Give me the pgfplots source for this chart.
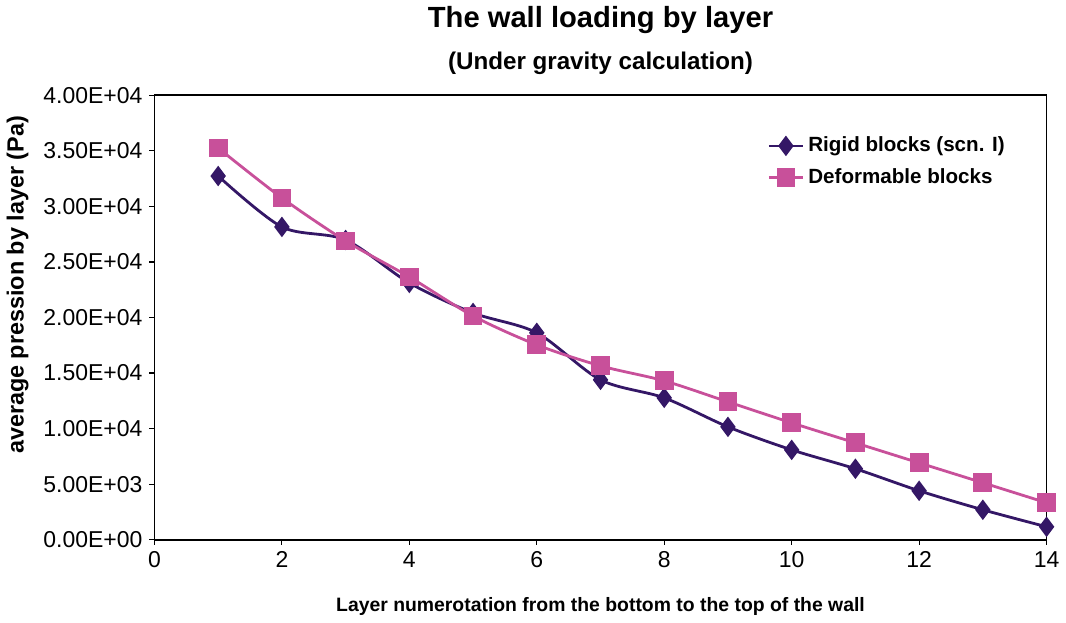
\documentclass[border=0pt]{standalone}
\usepackage{fontspec}
\setmainfont{Liberation Sans}
\usepackage{pgfplots}
\pgfplotsset{compat=1.18}

\definecolor{rigid}{HTML}{341766}
\definecolor{deform}{HTML}{C8509A}

\begin{document}
\begin{tikzpicture}
\begin{axis}[
    scale only axis,
    width=446.5pt, height=222.5pt,
    xmin=0, xmax=14, ymin=0, ymax=40000,
    xtick={0,2,...,14},
    ytick={0,5000,...,40000},
    yticklabels={0.00E+00,5.00E+03,1.00E+04,1.50E+04,2.00E+04,2.50E+04,3.00E+04,3.50E+04,4.00E+04},
    scaled y ticks=false,
    /pgf/number format/assume math mode=true,
    tick align=outside,
    xtick pos=bottom, ytick pos=left,
    major tick length=2.5pt,
    tick style={black, line width=0.6pt},
    axis line style={black, line width=0.8pt},
    tick label style={font=\fontsize{11.5}{13}\selectfont},
    xlabel={\textbf{Layer numerotation from the bottom to the top of the wall}},
    xlabel style={font=\fontsize{9.7}{11}\selectfont, at={(axis description cs:0.5,-0.1506)}, anchor=center},
    ylabel={\textbf{average pression by layer (Pa)}},
    ylabel style={font=\fontsize{11.7}{14}\selectfont, at={(axis description cs:-0.1534,0.573)}, anchor=center},
    legend style={at={(0.68,0.925)}, anchor=north west, draw=none, fill=none,
        font=\fontsize{10.3}{12}\selectfont\bfseries, row sep=3pt},
    legend cell align=left,
    clip=false,
]
\addplot[rigid, line width=1.4pt, smooth, tension=0.5, mark=diamond*, mark size=4pt, mark options={solid}] coordinates {
    (1,32730) (2,28150) (3,26980) (4,23110) (5,20410) (6,18620) (7,14390)
    (8,12770) (9,10160) (10,8090) (11,6390) (12,4410) (13,2700) (14,1170)
};
\addlegendentry{Rigid blocks (scn. I)}
\addplot[deform, line width=1.4pt, smooth, tension=0.5, mark=square*, mark size=4pt, mark options={solid}] coordinates {
    (1,35250) (2,30760) (3,26890) (4,23650) (5,20140) (6,17540) (7,15650)
    (8,14300) (9,12410) (10,10520) (11,8720) (12,6920) (13,5130) (14,3330)
};
\addlegendentry{Deformable blocks}
\node[font=\fontsize{14.6}{16}\selectfont\bfseries, anchor=center] at (axis description cs:0.5,1.1685) {The wall loading by layer};
\node[font=\fontsize{12.1}{14}\selectfont\bfseries, anchor=center] at (axis description cs:0.5,1.072) {(Under gravity calculation)};
\end{axis}
\end{tikzpicture}
\end{document}
